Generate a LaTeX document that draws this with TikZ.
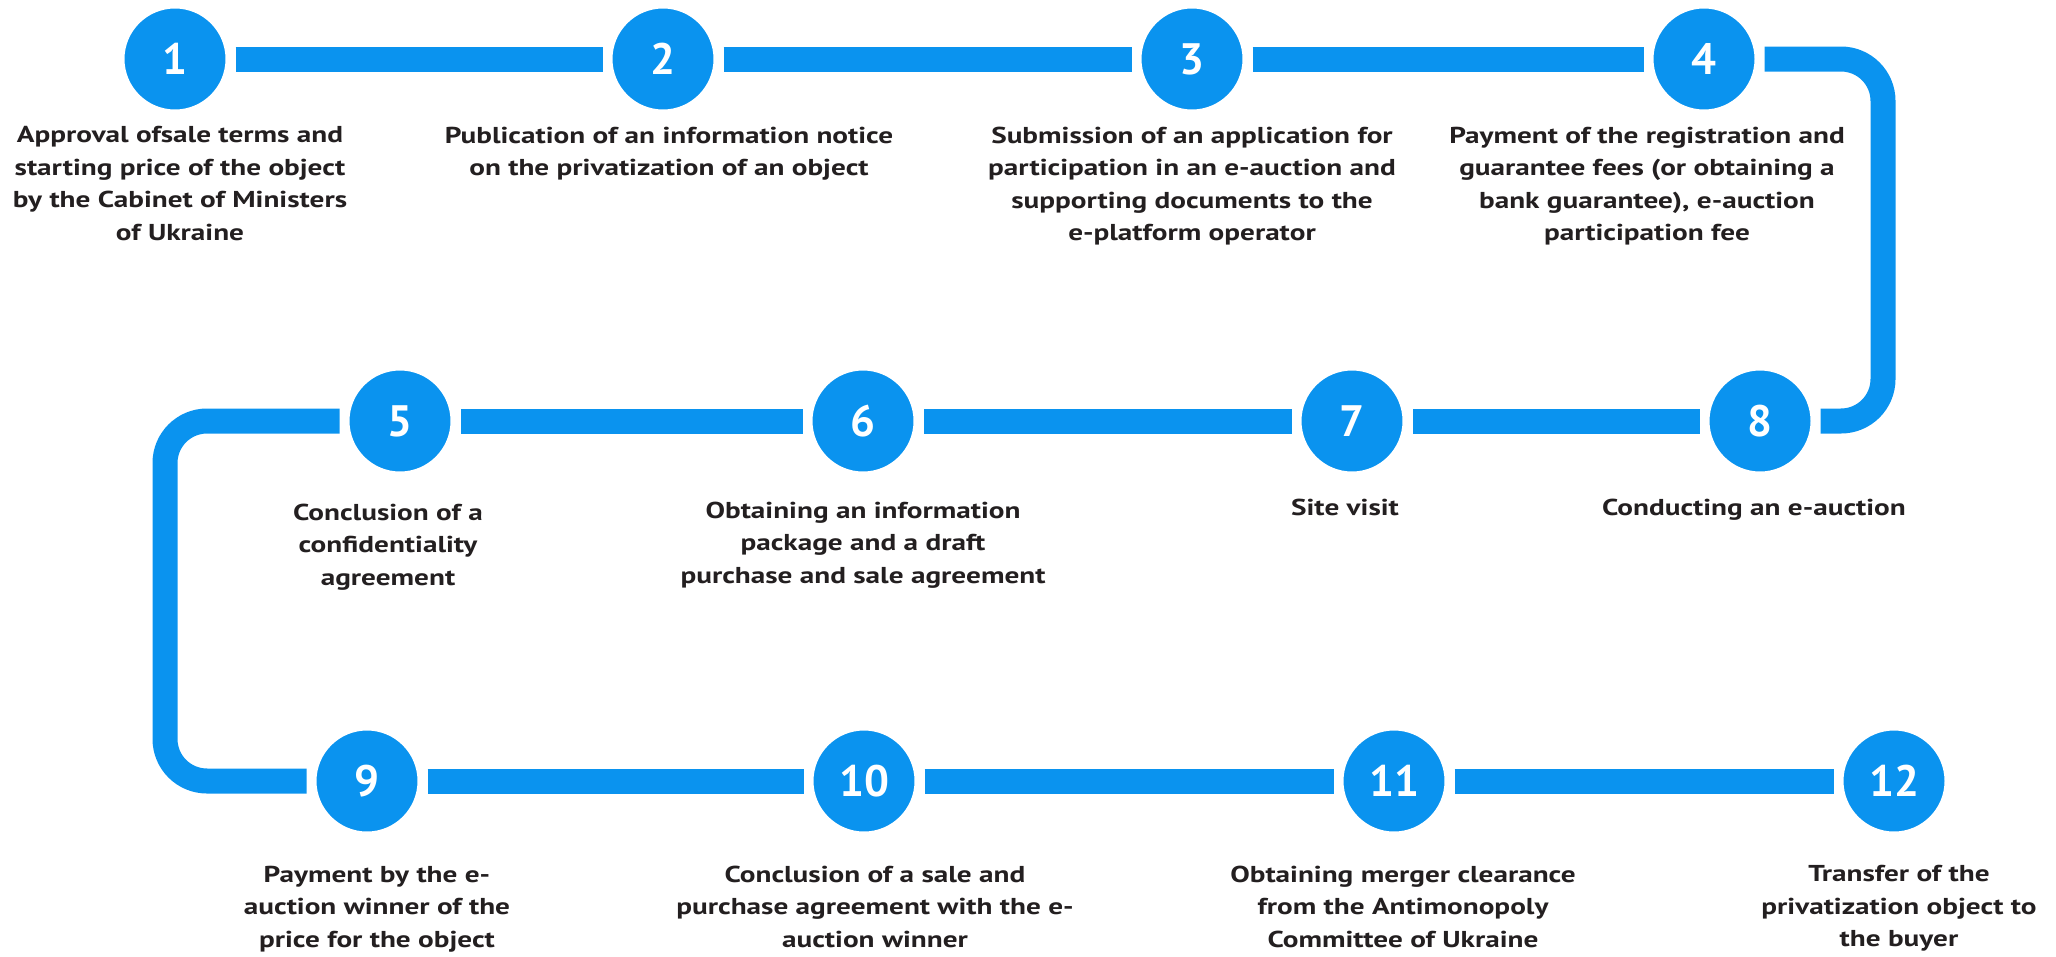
\documentclass[tikz,border=0pt]{standalone}
\usepackage{fontspec}
\setmainfont{PT Sans}
\newfontfamily\stagefont{PT Sans}[FakeStretch=1.27]
\usetikzlibrary{positioning}
\definecolor{stepblue}{HTML}{0A93EF}
\definecolor{ink}{HTML}{231F20}

\begin{document}
\begin{tikzpicture}[x=1pt,y=-1pt]
	\tikzstyle{stagecircle}=[circle, fill=stepblue, draw=white, line width=10pt, minimum size=111pt, inner sep=0pt, text=white, font=\fontsize{44}{44}\selectfont\bfseries]
	\tikzstyle{stagetext}=[align=center, inner sep=0pt, text=ink, font=\stagefont\fontsize{23}{32.5}\selectfont\bfseries]
	\tikzstyle{trackline}=[draw=stepblue, line width=25pt, rounded corners=42pt]

	\useasboundingbox (0,0) rectangle (2056,956);

	% stages, top row left to right
	\node (c1) [stagecircle] at (175,59) {1};
	\node (c2) [stagecircle] at (663,59) {2};
	\node (c3) [stagecircle] at (1192,59) {3};
	\node (c4) [stagecircle] at (1704,59) {4};
	% middle row
	\node (c5) [stagecircle] at (400,421) {5};
	\node (c6) [stagecircle] at (863,421) {6};
	\node (c7) [stagecircle] at (1352,421) {7};
	\node (c8) [stagecircle] at (1760,421) {8};
	% bottom row
	\node (c9) [stagecircle] at (367,781) {9};
	\node (c10) [stagecircle] at (864,781) {10};
	\node (c11) [stagecircle] at (1394,781) {11};
	\node (c12) [stagecircle] at (1894,781) {12};

	\coordinate (rt) at (1883,59);
	\coordinate (rb) at (1883,421);
	\coordinate (lt) at (165,421);
	\coordinate (lb) at (165,781);

	\node (t1) [stagetext, below=7pt of c1, xshift=5pt] {Approval ofsale terms and\\starting price of the object\\by the Cabinet of Ministers\\of Ukraine};
	\node (t2) [stagetext, below=7pt of c2, xshift=6pt] {Publication of an information notice\\on the privatization of an object};
	\node (t3) [stagetext, below=7pt of c3] {Submission of an application for\\participation in an e-auction and\\supporting documents to the\\e-platform operator};
	\node (t4) [stagetext, below=7pt of c4, xshift=-57pt] {Payment of the registration and\\guarantee fees (or obtaining a\\bank guarantee), e-auction\\participation fee};

	\node (t5) [stagetext, below=22pt of c5, xshift=-12pt] {Conclusion of a\\confidentiality\\agreement};
	\node (t6) [stagetext, below=20pt of c6] {Obtaining an information\\package and a draft\\purchase and sale agreement};
	\node (t7) [stagetext, below=17pt of c7, xshift=-7pt] {Site visit};
	\node (t8) [stagetext, below=17pt of c8, xshift=-6pt] {Conducting an e-auction};

	\node (t9) [stagetext, below=24pt of c9, xshift=10pt] {Payment by the e-\\auction winner of the\\price for the object};
	\node (t10) [stagetext, below=24pt of c10, xshift=11pt] {Conclusion of a sale and\\purchase agreement with the e-\\auction winner};
	\node (t11) [stagetext, below=24pt of c11, xshift=9pt] {Obtaining merger clearance\\from the Antimonopoly\\Committee of Ukraine};
	\node (t12) [stagetext, below=24pt of c12, xshift=5pt] {Transfer of the\\privatization object to\\the buyer};

	\foreach \a/\b in {c1/c2, c2/c3, c3/c4, c8/c7, c7/c6, c6/c5, c9/c10, c10/c11, c11/c12}
		\draw[trackline] (\a) -- (\b);
	\draw[trackline] (c4) -- (rt) -- (rb) -- (c8);
	\draw[trackline] (c5) -- (lt) -- (lb) -- (c9);
\end{tikzpicture}
\end{document}
